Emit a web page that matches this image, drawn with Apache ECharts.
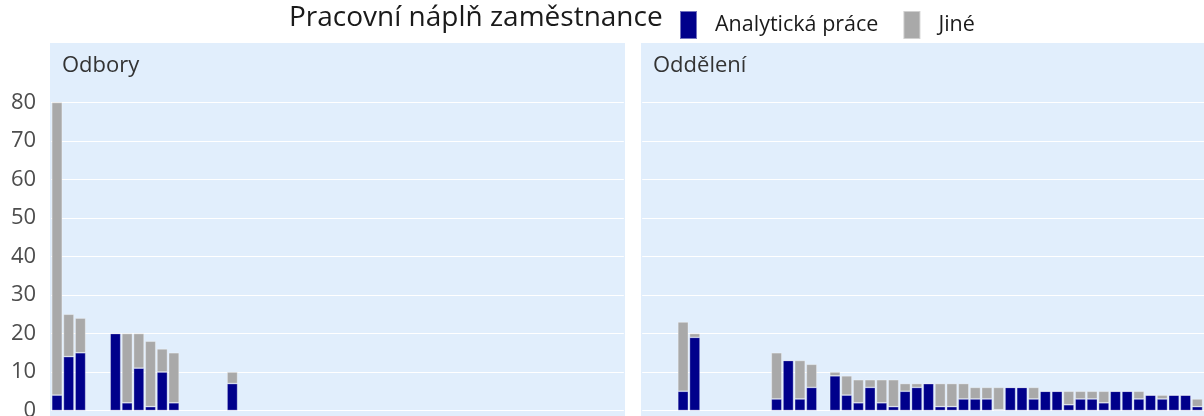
<!DOCTYPE html>
<html>
<head>
  <meta charset="utf-8">
  <title>Pracovní náplň zaměstnance</title>
  <script src="https://cdn.jsdelivr.net/npm/echarts@6.0.0/dist/echarts.min.js"></script>
  <style>
    html, body { margin: 0; padding: 0; background: #fff; }
  </style>
</head>
<body>
  <div id="chart" style="width: 1204px; height: 416px;"></div>

  <script>
    // kategorie na ose x (popisky jsou ve výřezu oříznuté)
    const categories = [
      '1', '2', '3', '4', '5', '6', '7', '8', '9', '10',
      '11', '12', '13', '14', '15', '16', '17', '18', '19', '20',
      '21', '22', '23', '24', '25', '26', '27', '28', '29', '30',
      '31', '32', '33', '34', '35', '36', '37', '38', '39', '40',
      '41', '42', '43', '44', '45', '46', '47', '48', '49'
    ];
    // do kterého panelu kategorie patří
    const panel = [
      'Odbory', 'Odbory', 'Odbory', 'Oddělení', 'Oddělení', 'Odbory', 'Odbory', 'Odbory', 'Odbory', 'Odbory',
      'Odbory', 'Oddělení', 'Oddělení', 'Oddělení', 'Oddělení', 'Odbory', 'Oddělení', 'Oddělení', 'Oddělení', 'Oddělení',
      'Oddělení', 'Oddělení', 'Oddělení', 'Oddělení', 'Oddělení', 'Oddělení', 'Oddělení', 'Oddělení', 'Oddělení', 'Oddělení',
      'Oddělení', 'Oddělení', 'Oddělení', 'Oddělení', 'Oddělení', 'Oddělení', 'Oddělení', 'Oddělení', 'Oddělení', 'Oddělení',
      'Oddělení', 'Oddělení', 'Oddělení', 'Oddělení', 'Oddělení', 'Oddělení', 'Oddělení', 'Oddělení', 'Oddělení'
    ];
    const analyticka = [
      4, 14, 15, 5, 19, 20, 2, 11, 1, 10,
      2, 3, 13, 3, 6, 7, 9, 4, 2, 6,
      2, 1, 5, 6, 7, 1, 1, 3, 3, 3,
      0.2, 6, 6, 3, 5, 5, 1.5, 3, 3, 2,
      5, 5, 3, 4, 3, 4, 4, 1, 0
    ];
    const jine = [
      76, 11, 9, 18, 1, 0, 18, 9, 17, 6,
      13, 12, 0, 10, 6, 3, 1, 5, 6, 2,
      6, 7, 2, 1, 0, 6, 6, 4, 3, 3,
      5.8, 0, 0, 3, 0, 0, 3.5, 2, 2, 3,
      0, 0, 2, 0, 1, 0, 0, 2, 1.5
    ];
    const panels = ['Odbory', 'Oddělení'];
    const yTicks = [0, 10, 20, 30, 40, 50, 60, 70, 80];

    const BLUE = '#00008B';
    const GREY = '#A9A9A9';
    const PANEL_BG = '#E1EEFC';
    const FONT = 'Open Sans';

    // rozměry panelů (ggplot facet)
    const panelX = [50, 641];
    const panelW = 575;
    const unit = panelW / (categories.length + 0.2);

    const pick = (arr, p) => arr.map((v, i) => (panel[i] === p ? v : '-'));

    const grids = panels.map((p, k) => ({
      left: panelX[k] + 0.1 * unit,
      width: unit * categories.length,
      top: 102.5,
      bottom: 5.5,
      containLabel: false,
      outerBoundsMode: 'none'
    }));

    const xAxes = panels.map((p, k) => ({
      type: 'category',
      gridIndex: k,
      data: categories,
      axisLine: { show: false },
      axisTick: { show: false },
      axisLabel: { show: false },
      splitLine: { show: false }
    }));

    const yAxes = panels.map((p, k) => ({
      type: 'value',
      gridIndex: k,
      min: yTicks[0],
      max: yTicks[yTicks.length - 1],
      interval: 10,
      axisLine: { show: false },
      axisTick: { show: false },
      axisLabel: {
        show: k === 0,
        color: '#4D4D4D',
        fontFamily: FONT,
        fontSize: 22,
        margin: 15
      },
      splitLine: { show: true, lineStyle: { color: '#FFFFFF', width: 1.2 } }
    }));

    const series = [];
    panels.forEach((p, k) => {
      series.push({
        name: 'Analytická práce',
        type: 'bar',
        xAxisIndex: k,
        yAxisIndex: k,
        stack: 'p' + k,
        barWidth: '90%',
        data: pick(analyticka, p),
        itemStyle: { color: BLUE, borderColor: 'rgba(255,255,255,0.45)', borderWidth: 0.7 }
      });
      series.push({
        name: 'Jiné',
        type: 'bar',
        xAxisIndex: k,
        yAxisIndex: k,
        stack: 'p' + k,
        barWidth: '90%',
        data: pick(jine, p),
        itemStyle: { color: GREY, borderColor: 'rgba(255,255,255,0.45)', borderWidth: 0.7 }
      });
    });

    const chart = echarts.init(document.getElementById('chart'), null, { renderer: 'canvas' });

    chart.setOption({
      animation: false,
      backgroundColor: '#FFFFFF',
      title: {
        text: 'Pracovní náplň zaměstnance',
        left: 289,
        top: 4,
        padding: 0,
        textStyle: { fontFamily: FONT, fontSize: 28, fontWeight: 'normal', color: '#1A1A1A' }
      },
      legend: {
        left: 679,
        top: 10,
        padding: 0,
        itemWidth: 17,
        itemHeight: 28,
        itemGap: 24,
        icon: 'rect',
        data: ['Analytická práce', 'Jiné'],
        textStyle: { fontFamily: FONT, fontSize: 21.5, color: '#1A1A1A', padding: [0, 0, 0, 13] }
      },
      graphic: [
        // pozadí panelů včetně záhlaví
        ...panels.map((p, k) => ({
          type: 'rect',
          z: -10,
          silent: true,
          shape: { x: panelX[k], y: 43, width: panelW, height: 380 },
          style: { fill: PANEL_BG }
        })),
        // názvy panelů
        ...panels.map((p, k) => ({
          type: 'text',
          z: 10,
          silent: true,
          x: panelX[k] + 12,
          y: 55,
          style: { text: p, fontFamily: FONT, fontSize: 22, fill: '#333333' }
        }))
      ],
      grid: grids,
      xAxis: xAxes,
      yAxis: yAxes,
      series: series
    });
  </script>
</body>
</html>
